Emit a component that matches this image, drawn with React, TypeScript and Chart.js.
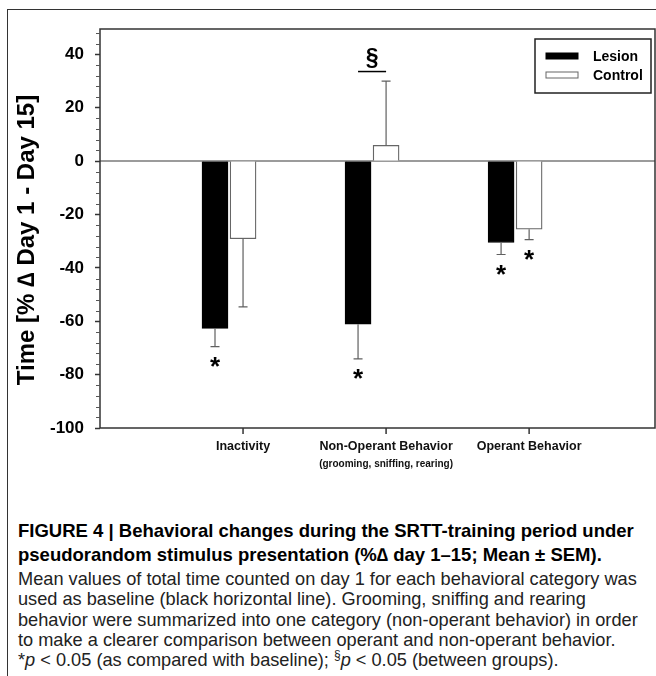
import React, { useEffect, useRef } from 'react';
import { Chart, registerables } from 'chart.js';

Chart.register(...registerables);

// ---------------- data ----------------
const categories = ['Inactivity', 'Non-Operant Behavior', 'Operant Behavior'];
const categoryNotes = ['', '(grooming, sniffing, rearing)', ''];
const seriesNames = ['Lesion', 'Control'];
const lesionMean = [-62.7, -61.1, -30.5];
const lesionSem = [6.8, 13.0, 4.5];
const controlMean = [-29.1, 5.9, -25.5];
const controlSem = [25.5, 24.1, 3.9];
const lesionVsBaseline = [true, true, true];
const controlVsBaseline = [false, false, true];
const betweenGroups = [false, true, false];
const yTickValues = [-100, -80, -60, -40, -20, 0, 20, 40];
const yMinorTickValues = [
  -96, -92, -88, -84, -76, -72, -68, -64, -56, -52, -48, -44, -36, -32, -28, -24,
  -16, -12, -8, -4, 4, 8, 12, 16, 24, 28, 32, 36, 44, 48,
];
const yAxisTitle = 'Time [% \u2206 Day 1 - Day 15]';

// ---------------- layout constants ----------------
const Y_MIN = -100;
const Y_MAX = 49.5;
const X_MIN = 0;
const X_MAX = 3.88;
const GROUP_OFFSET = 0.196; // lesion bar sits left of the category tick
const FONT = '"Liberation Sans", Arial, Helvetica, sans-serif';
const CANVAS_W = 656;
const CANVAS_H = 480;

const semBySeries = [lesionSem, controlSem];
const sigBySeries = [lesionVsBaseline, controlVsBaseline];

const annotations = {
  id: 'annotations',
  beforeDatasetsDraw(chart: any) {
    const { ctx, chartArea: a, scales } = chart;
    const y = scales.y;
    const y0 = y.getPixelForValue(0);
    ctx.save();
    ctx.strokeStyle = '#7a7a7a';
    ctx.lineWidth = 1.5;
    ctx.beginPath();
    ctx.moveTo(a.left, y0);
    ctx.lineTo(a.right, y0);
    ctx.stroke();
    ctx.restore();
  },
  afterDatasetsDraw(chart: any) {
    const { ctx, scales } = chart;
    const y = scales.y;
    ctx.save();
    const ends: number[][] = [[], []];
    chart.data.datasets.forEach((ds: any, d: number) => {
      const meta = chart.getDatasetMeta(d);
      meta.data.forEach((bar: any, i: number) => {
        const m = ds.data[i].y;
        const s = semBySeries[d][i];
        const endVal = m >= 0 ? m + s : m - s;
        const py0 = y.getPixelForValue(m);
        const py1 = y.getPixelForValue(endVal);
        ends[d][i] = py1;
        ctx.strokeStyle = '#606060';
        ctx.lineWidth = 1.2;
        ctx.beginPath();
        ctx.moveTo(bar.x, py0);
        ctx.lineTo(bar.x, py1);
        ctx.moveTo(bar.x - 4.5, py1);
        ctx.lineTo(bar.x + 4.5, py1);
        ctx.stroke();
        if (sigBySeries[d][i]) {
          ctx.fillStyle = '#000';
          ctx.font = `bold 26px ${FONT}`;
          ctx.textAlign = 'center';
          ctx.textBaseline = 'alphabetic';
          const mt = ctx.measureText('*');
          const cy = py1 + 15;
          const base = cy + (mt.actualBoundingBoxAscent - mt.actualBoundingBoxDescent) / 2;
          ctx.fillText('*', bar.x, base);
        }
      });
    });
    // between-group marker
    betweenGroups.forEach((sig, i) => {
      if (!sig) return;
      const bl = chart.getDatasetMeta(0).data[i];
      const bc = chart.getDatasetMeta(1).data[i];
      const top = Math.min(ends[0][i], ends[1][i]);
      const ly = top - 9.5;
      ctx.strokeStyle = '#000';
      ctx.lineWidth = 1.5;
      ctx.beginPath();
      ctx.moveTo(bl.x, ly);
      ctx.lineTo(bc.x, ly);
      ctx.stroke();
      ctx.fillStyle = '#000';
      ctx.font = `bold 23px ${FONT}`;
      ctx.textAlign = 'center';
      ctx.textBaseline = 'alphabetic';
      const mt = ctx.measureText('\u00a7');
      const base = ly - 4 - mt.actualBoundingBoxDescent;
      ctx.fillText('\u00a7', (bl.x + bc.x) / 2, base);
    });
    ctx.restore();
  },
  afterDraw(chart: any) {
    const { ctx, chartArea: a, scales } = chart;
    const x = scales.x;
    const y = scales.y;
    ctx.save();
    // plot frame
    ctx.strokeStyle = '#333';
    ctx.lineWidth = 1.5;
    ctx.strokeRect(a.left, a.top, a.right - a.left, a.bottom - a.top);
    // minor y ticks
    ctx.lineWidth = 1;
    ctx.strokeStyle = '#555';
    ctx.beginPath();
    yMinorTickValues.forEach((v) => {
      const py = Math.round(y.getPixelForValue(v)) + 0.5;
      ctx.moveTo(a.left - 4, py);
      ctx.lineTo(a.left, py);
    });
    ctx.stroke();
    // x ticks and labels
    ctx.strokeStyle = '#333';
    ctx.lineWidth = 1.5;
    categories.forEach((c, i) => {
      const px = x.getPixelForValue(i + 1);
      ctx.beginPath();
      ctx.moveTo(px, a.bottom);
      ctx.lineTo(px, a.bottom + 6);
      ctx.stroke();
      ctx.fillStyle = '#111';
      ctx.textAlign = 'center';
      ctx.textBaseline = 'middle';
      ctx.font = `bold 12.5px ${FONT}`;
      ctx.fillText(c, px, a.bottom + 19);
      if (categoryNotes[i]) {
        ctx.font = `bold 10px ${FONT}`;
        ctx.fillText(categoryNotes[i], px, a.bottom + 36);
      }
    });
    // y axis title
    ctx.save();
    ctx.translate(27, 240);
    ctx.rotate(-Math.PI / 2);
    ctx.font = `bold 24px ${FONT}`;
    ctx.fillStyle = '#000';
    ctx.textAlign = 'center';
    ctx.textBaseline = 'middle';
    ctx.fillText(yAxisTitle, 0, 0);
    ctx.restore();
    // legend
    const lw = 116;
    const lh = 54;
    const lx = a.right - 4 - lw;
    const ly = a.top + 10;
    ctx.strokeStyle = '#222';
    ctx.lineWidth = 1.5;
    ctx.fillStyle = '#fff';
    ctx.fillRect(lx, ly, lw, lh);
    ctx.strokeRect(lx, ly, lw, lh);
    chart.data.datasets.forEach((ds: any, d: number) => {
      const cy = ly + 17 + d * 19;
      ctx.fillStyle = ds.backgroundColor;
      ctx.fillRect(lx + 11, cy - 3, 32, 6);
      ctx.strokeStyle = ds.borderColor;
      ctx.lineWidth = 1;
      ctx.strokeRect(lx + 11, cy - 3, 32, 6);
      ctx.fillStyle = '#000';
      ctx.font = `bold 14px ${FONT}`;
      ctx.textAlign = 'left';
      ctx.textBaseline = 'middle';
      ctx.fillText(ds.label, lx + 58, cy + 1);
    });
    ctx.restore();
  },
};

function ChartView() {
  const ref = useRef<HTMLCanvasElement | null>(null);
  useEffect(() => {
    if (!ref.current) return;
    const chart = new Chart(ref.current, {
      type: 'bar',
      data: {
        datasets: [
          {
            label: seriesNames[0],
            data: categories.map((_, i) => ({ x: i + 1 - GROUP_OFFSET, y: lesionMean[i] })),
            backgroundColor: '#000',
            borderColor: '#000',
            borderWidth: 1,
            barThickness: 26,
            grouped: false,
          },
          {
            label: seriesNames[1],
            data: categories.map((_, i) => ({ x: i + 1, y: controlMean[i] })),
            backgroundColor: '#fff',
            borderColor: '#666',
            borderWidth: 1.3,
            barThickness: 26,
            grouped: false,
          },
        ],
      },
      options: {
        responsive: false,
        animation: false,
        devicePixelRatio: 1,
        layout: { padding: { top: 29, right: 1, left: 0, bottom: 0 } },
        plugins: { legend: { display: false }, tooltip: { enabled: false }, title: { display: false } },
        scales: {
          x: {
            type: 'linear',
            offset: false,
            min: X_MIN,
            max: X_MAX,
            grid: { display: false, offset: false },
            ticks: { display: false },
            border: { display: false },
            afterFit: (s: any) => {
              s.height = CANVAS_H - 428;
            },
          },
          y: {
            type: 'linear',
            min: Y_MIN,
            max: Y_MAX,
            afterBuildTicks: (s: any) => {
              s.ticks = yTickValues.map((v) => ({ value: v }));
            },
            afterFit: (s: any) => {
              s.width = 100;
            },
            grid: {
              display: true,
              drawOnChartArea: false,
              drawTicks: true,
              tickLength: 5,
              tickColor: '#333',
              tickWidth: 1.5,
            },
            border: { display: false },
            ticks: {
              color: '#000',
              padding: 11,
              font: { family: FONT, size: 17, weight: 'bold' },
            },
          },
        },
      },
      plugins: [annotations],
    } as any);
    return () => chart.destroy();
  }, []);
  return (
    <canvas
      ref={ref}
      width={CANVAS_W}
      height={CANVAS_H}
      style={{ position: 'absolute', left: 0, top: 0, width: CANVAS_W, height: CANVAS_H }}
    />
  );
}

const boldLine: React.CSSProperties = {
  fontFamily: FONT,
  fontWeight: 'bold',
  fontSize: 18.5,
  lineHeight: '24px',
  whiteSpace: 'nowrap',
  color: '#000',
};
const regLine: React.CSSProperties = {
  fontFamily: FONT,
  fontSize: 18.2,
  lineHeight: '20.3px',
  whiteSpace: 'nowrap',
  color: '#222',
};

export default function App() {
  return (
    <div
      style={{
        position: 'absolute',
        left: 0,
        top: 0,
        width: 656,
        height: 676,
        overflow: 'hidden',
        background: '#fff',
      }}
    >
      <div
        style={{
          position: 'absolute',
          left: 7,
          top: 9,
          width: 800,
          height: 800,
          borderLeft: '1.5px solid #333',
          borderTop: '1.5px solid #333',
        }}
      />
      <ChartView />
      <div style={{ position: 'absolute', left: 18, top: 519 }}>
        <div style={boldLine}>FIGURE 4 | Behavioral changes during the SRTT-training period under</div>
        <div style={boldLine}>pseudorandom stimulus presentation (%{'\u2206'} day 1–15; Mean ± SEM).</div>
        <div style={{ ...regLine, marginTop: 2 }}>
          Mean values of total time counted on day 1 for each behavioral category was
        </div>
        <div style={regLine}>used as baseline (black horizontal line). Grooming, sniffing and rearing</div>
        <div style={regLine}>behavior were summarized into one category (non-operant behavior) in order</div>
        <div style={regLine}>to make a clearer comparison between operant and non-operant behavior.</div>
        <div style={regLine}>
          *<i>p</i> &lt; 0.05 (as compared with baseline); <sup style={{ fontSize: 12, lineHeight: 0 }}>§</sup>
          <i>p</i> &lt; 0.05 (between groups).
        </div>
      </div>
    </div>
  );
}
